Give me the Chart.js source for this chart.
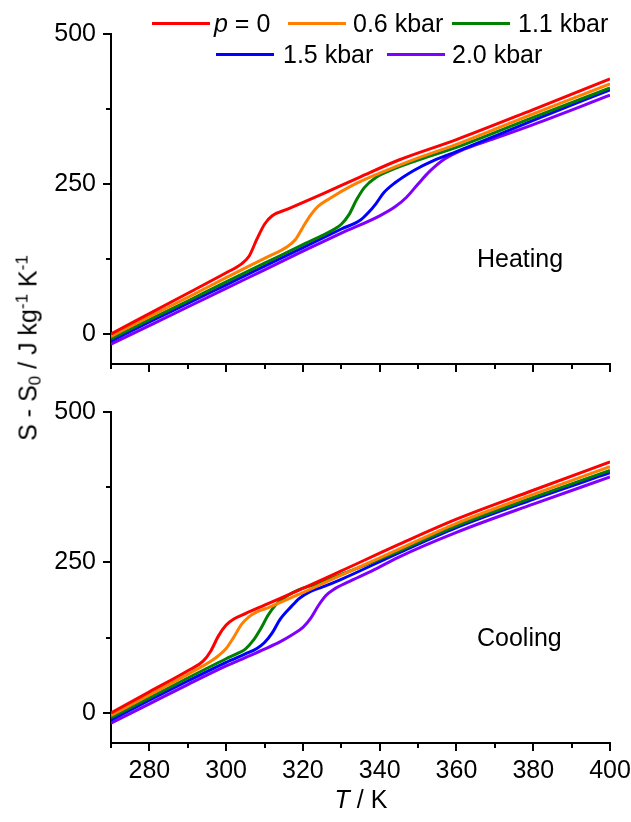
<!DOCTYPE html>
<html>
<head>
<meta charset="utf-8">
<script src="https://cdn.jsdelivr.net/npm/chart.js@4.4.0/dist/chart.umd.min.js"></script>
<style>
  body { margin: 0; background: #fff; }
  #wrap { position: relative; width: 631px; height: 822px; font-family: "Liberation Sans", Arial, sans-serif; color: #000; }
  canvas { position: absolute; left: 0; }
  .txt { position: absolute; font-size: 25px; line-height: 25px; white-space: nowrap; }
  .txt sub, .txt sup { font-size: 17px; line-height: 0; }
  .txt sub { vertical-align: -4px; }
  .txt sup { vertical-align: 9px; }
  .sw { position: absolute; height: 0; border-top: 3px solid; }
</style>
</head>
<body>
<div id="wrap">
  <canvas id="heat"></canvas>
  <canvas id="cool"></canvas>
  <div class="txt" style="left:477px; top:246px;">Heating</div>
  <div class="txt" style="left:477px; top:625px;">Cooling</div>
  <div class="txt" style="left:361px; top:787px; transform:translateX(-50%);"><i>T</i> / K</div>
  <div class="txt" style="left:28px; top:348px; transform:translate(-50%,-50%) rotate(-90deg);">S - S<sub>0</sub> / J kg<sup>-1</sup> K<sup>-1</sup></div>
</div>
<script>
// pressures and colours
const pressureLabels = ['p = 0', '0.6 kbar', '1.1 kbar', '1.5 kbar', '2.0 kbar'];
const seriesColors = ['#ff0000', '#ff8000', '#008000', '#0000ff', '#8000ff'];

// axis ticks
const xMajor = [280, 300, 320, 340, 360, 380, 400];
const xMinor = [270, 290, 310, 330, 350, 370, 390];
const yMajor = [0, 250, 500];
const yMinor = [125, 375];

// heating curves, [T (K), S - S0 (J/kg/K)]
const heatP0 = [[270,0],[280,34],[290,68],[300,102],[304,117],[306,130],[308,158],[310,183],[312,197],[316,208],[325,233],[335,262],[345,290],[360,324],[380,374],[400,425]];
const heat06 = [[270,-4],[280,29],[290,61],[300,94],[310,126],[316,146],[318,157],[320,178],[322,198],[324,213],[327,226],[333,248],[340,268],[349,291],[360,316],[380,367],[400,417]];
const heat11 = [[270,-8],[280,24],[290,55],[300,87],[310,118],[320,149],[328,174],[330,183],[332,199],[334,224],[336,244],[339,261],[344,276],[351,292],[360,311],[380,361],[400,410]];
const heat15 = [[270,-12],[280,20],[290,51],[300,82],[310,113],[320,144],[330,175],[335,190],[337,202],[339,217],[341,235],[344,252],[349,273],[354,289],[360,304],[380,356],[400,407]];
const heat20 = [[270,-17],[280,14],[290,45],[300,76],[310,107],[320,138],[330,168],[340,197],[344,212],[347,228],[350,250],[353,271],[357,292],[362,308],[370,326],[380,349],[400,398]];

// cooling curves
const coolP0 = [[270,0],[280,35],[290,70],[294,86],[296,103],[298,128],[300,146],[302,156],[305,165],[310,179],[320,207],[330,236],[345,280],[360,322],[380,370],[400,417]];
const cool06 = [[270,-4],[280,30],[290,64],[296,86],[298,95],[300,107],[302,126],[304,147],[306,160],[308,168],[311,175],[320,200],[330,229],[345,272],[360,315],[380,363],[400,409]];
const cool11 = [[270,-8],[280,25],[290,58],[300,90],[303,99],[305,106],[307,120],[309,140],[311,163],[313,180],[316,195],[319,205],[323,213],[330,230],[345,269],[360,311],[380,358],[400,403]];
const cool15 = [[270,-12],[280,21],[290,53],[300,84],[305,98],[308,107],[310,117],[312,133],[314,155],[317,177],[319,190],[322,202],[325,209],[330,222],[345,266],[360,308],[380,355],[400,399]];
const cool20 = [[270,-17],[280,15],[290,47],[300,78],[305,92],[310,106],[314,118],[317,129],[320,142],[322,157],[324,178],[326,195],[328,205],[332,218],[338,236],[345,259],[360,300],[380,347],[400,392]];

const heatSeries = [heatP0, heat06, heat11, heat15, heat20];
const coolSeries = [coolP0, cool06, cool11, cool15, cool20];

// legend (html), two rows like the original
const legendPos = [[152, 214, 23], [288, 353, 23], [452, 518, 23], [216, 283, 54], [387, 452, 54]];
const wrap = document.getElementById('wrap');
pressureLabels.forEach((lab, i) => {
  const [sx, tx, y] = legendPos[i];
  const sw = document.createElement('div');
  sw.className = 'sw';
  sw.style.cssText = `left:${sx}px; top:${y - 1}px; width:58px; border-color:${seriesColors[i]};`;
  wrap.appendChild(sw);
  const t = document.createElement('div');
  t.className = 'txt';
  t.style.left = tx + 'px';
  t.style.top = (y - 12) + 'px';
  t.innerHTML = lab.replace(/^p /, '<i>p</i> ');
  wrap.appendChild(t);
});

// minor ticks drawn off the library scales
const minorTicks = {
  id: 'minorTicks',
  afterDraw(chart) {
    const { ctx, chartArea: a, scales: { x, y } } = chart;
    ctx.save();
    ctx.strokeStyle = '#000';
    ctx.lineWidth = 2;
    ctx.beginPath();
    xMinor.forEach(v => {
      const p = Math.round(x.getPixelForValue(v));
      ctx.moveTo(p, a.bottom);
      ctx.lineTo(p, a.bottom + 5);
    });
    yMinor.forEach(v => {
      const p = Math.round(y.getPixelForValue(v));
      ctx.moveTo(a.left, p);
      ctx.lineTo(a.left - 5, p);
    });
    ctx.stroke();
    ctx.restore();
  }
};

function makeChart(id, top, height, padTop, xHeight, series, showX) {
  const canvas = document.getElementById(id);
  canvas.width = 631;
  canvas.height = height;
  canvas.style.top = top + 'px';
  return new Chart(canvas.getContext('2d'), {
    type: 'line',
    data: {
      datasets: series.map((s, i) => ({
        label: pressureLabels[i],
        data: s.map(([t, v]) => ({ x: t, y: v })),
        borderColor: seriesColors[i],
        borderWidth: 3,
        pointRadius: 0,
        cubicInterpolationMode: 'monotone',
        fill: false
      }))
    },
    options: {
      responsive: false,
      animation: false,
      devicePixelRatio: 1,
      layout: { padding: { top: padTop, right: 21, left: 0, bottom: 0 } },
      plugins: { legend: { display: false }, tooltip: { enabled: false } },
      scales: {
        x: {
          type: 'linear',
          min: 270,
          max: 400,
          afterBuildTicks: s => { s.ticks = xMajor.map(v => ({ value: v })); },
          afterFit: s => { s.height = xHeight; s.paddingLeft = 0; s.paddingRight = 0; },
          grid: { drawOnChartArea: false, drawTicks: true, tickLength: 8, color: '#000', lineWidth: 2 },
          border: { display: true, color: '#000', width: 2 },
          ticks: {
            display: showX,
            padding: 5,
            color: '#000',
            font: { family: 'Liberation Sans, Arial', size: 25 }
          }
        },
        y: {
          min: -50,
          max: 500,
          afterBuildTicks: s => { s.ticks = yMajor.map(v => ({ value: v })); },
          afterFit: s => { s.width = 111; s.paddingTop = 0; s.paddingBottom = 0; },
          grid: { drawOnChartArea: false, drawTicks: true, tickLength: 8, color: '#000', lineWidth: 2 },
          border: { display: true, color: '#000', width: 2 },
          ticks: {
            padding: 7,
            color: '#000',
            font: { family: 'Liberation Sans, Arial', size: 25 }
          }
        }
      }
    },
    plugins: [minorTicks]
  });
}

makeChart('heat', 0, 380, 34, 16, heatSeries, false);
makeChart('cool', 380, 442, 32, 79, coolSeries, true);
</script>
</body>
</html>
